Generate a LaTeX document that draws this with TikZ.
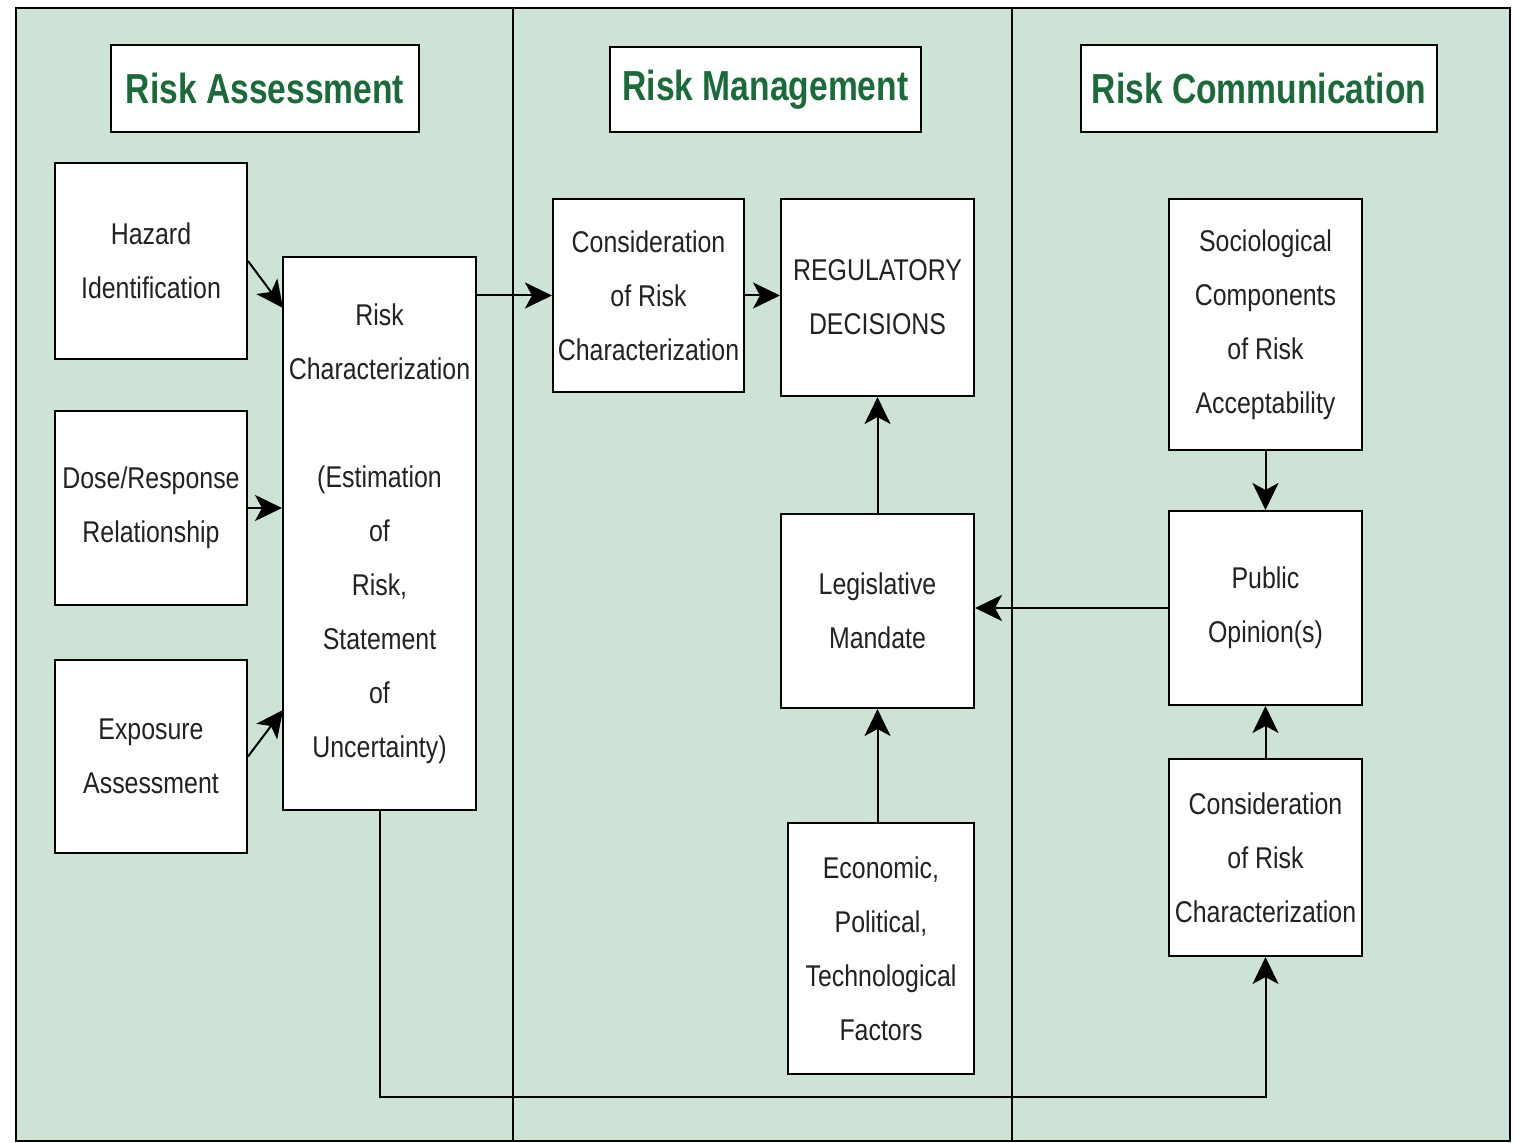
\documentclass[tikz,border=0pt]{standalone}
\usepackage{fontspec}
\setmainfont{Liberation Sans}[FakeStretch=0.83]
\newfontfamily\titlefont{Liberation Sans}[FakeStretch=0.80]
\usetikzlibrary{arrows.meta}
\definecolor{bggreen}{HTML}{CCE3D5}
\definecolor{titlegreen}{HTML}{1B6B3A}
\definecolor{txt}{HTML}{222222}
\begin{document}
\begin{tikzpicture}[x=0.5pt,y=-0.5pt,
  box/.style={draw=black,line width=1pt,fill=white,align=center,inner sep=0pt,
    text=txt,font=\fontsize{15pt}{27pt}\selectfont},
  titlebox/.style={draw=black,line width=1pt,fill=white,inner sep=0pt,
    text=titlegreen,font=\titlefont\bfseries\fontsize{21pt}{25pt}\selectfont},
  arr/.style={line width=1pt,-{Stealth[length=13.5pt,width=13pt,inset=3.5pt]}},
  divider/.style={line width=0.7pt}]
\useasboundingbox (0,0) rectangle (1515,1143);
\fill[white] (0,0) rectangle (1515,1143);
\draw[fill=bggreen,line width=1pt] (16,8) rectangle (1510,1141);
\draw[divider] (513,8) -- (513,1141);
\draw[divider] (1012,8) -- (1012,1141);

% titles
\node[titlebox,minimum width=154pt,minimum height=43.5pt] (tA) at (265,88.5) {Risk Assessment};
\node[titlebox,minimum width=155.5pt,minimum height=42.5pt] (tM) at (765.5,89.5) {Risk Management};
\node[titlebox,minimum width=178pt,minimum height=43.5pt] (tC) at (1259,88.5) {Risk Communication};

% assessment
\node[box,minimum width=96pt,minimum height=98pt] (haz) at (151,261) {Hazard\\Identification};
\node[box,minimum width=96pt,minimum height=97pt] (dose) at (151,508) {Dose/Response\\Relationship};
\node[box,minimum width=96pt,minimum height=96.5pt] (expo) at (151,756.5) {Exposure\\Assessment};
\node[box,minimum width=96.5pt,minimum height=276.5pt] (rc) at (379.5,533.5)
  {Risk\\Characterization\\[27pt](Estimation\\of\\Risk,\\Statement\\of\\Uncertainty)};

% management
\node[box,minimum width=95.5pt,minimum height=96.5pt] (cons1) at (648.5,295.5) {Consideration\\of Risk\\Characterization};
\node[box,minimum width=96.5pt,minimum height=98.5pt] (reg) at (877.5,297.5) {REGULATORY\\DECISIONS};
\node[box,minimum width=96.5pt,minimum height=97pt] (leg) at (877.5,611) {Legislative\\Mandate};
\node[box,minimum width=93pt,minimum height=125.5pt] (eco) at (881,948.5) {Economic,\\Political,\\Technological\\Factors};

% communication
\node[box,minimum width=96.5pt,minimum height=125.5pt] (soc) at (1265.5,324.5) {Sociological\\Components\\of Risk\\Acceptability};
\node[box,minimum width=96.5pt,minimum height=97pt] (pub) at (1265.5,608) {Public\\Opinion(s)};
\node[box,minimum width=96.5pt,minimum height=98.5pt] (cons2) at (1265.5,857.5) {Consideration\\of Risk\\Characterization};

% connectors
\coordinate (rcA) at (283,308);
\coordinate (rcC) at (283,710);
\coordinate (fb) at (0,1097);
\draw[arr] (haz.east) -- (rcA);
\draw[arr] (dose.east) -- (dose.east -| rc.west);
\draw[arr] (expo.east) -- (rcC);
\draw[arr] (rc.east |- cons1.west) -- (cons1.west);
\draw[arr] (cons1.east) -- (cons1.east -| reg.west);
\draw[arr] (leg.north) -- (reg.south);
\draw[arr] (leg.south |- eco.north) -- (leg.south);
\draw[arr] (pub.west) -- (pub.west -| leg.east);
\draw[arr] (soc.south) -- (pub.north);
\draw[arr] (cons2.north) -- (pub.south);
\draw[arr] (rc.south) -- (rc.south |- fb) -- (cons2.south |- fb) -- (cons2.south);
\end{tikzpicture}
\end{document}
